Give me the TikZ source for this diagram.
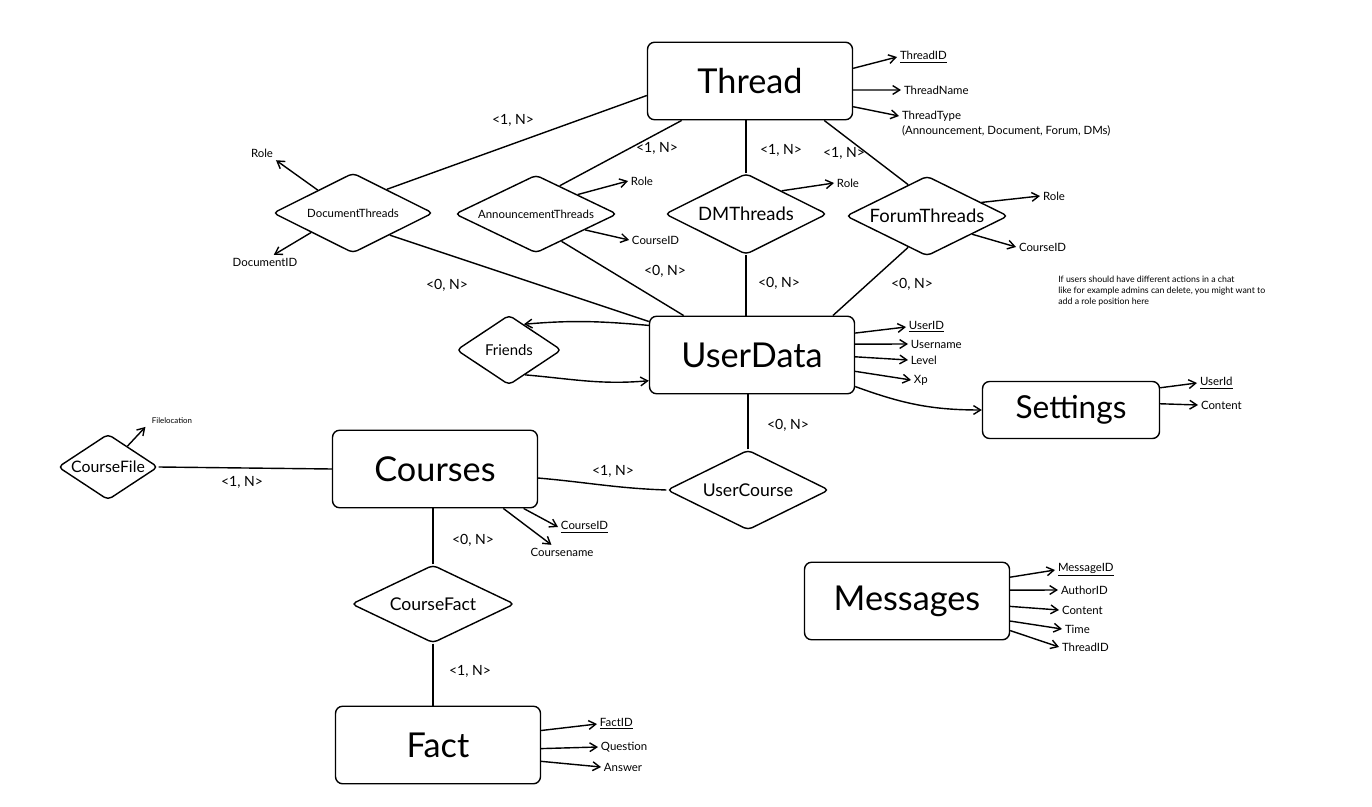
\documentclass[tikz,border=0pt]{standalone}
\usepackage{fontspec}
\setmainfont{Lato}
\usetikzlibrary{shapes.geometric,arrows.meta}

\tikzset{
  entity/.style={draw, rounded corners=4pt, line width=0.8pt, minimum width=4.1cm, minimum height=1.55cm, font=\fontsize{19.5}{22}\selectfont},
  relation/.style={draw, diamond, aspect=2, inner sep=0pt, rounded corners=2.5pt, line width=0.8pt},
  smallrel/.style={relation, font=\fontsize{6.5}{8}\selectfont},
  bigrel/.style={relation, font=\fontsize{10.5}{12}\selectfont},
  attr/.style={font=\fontsize{6.5}{8}\selectfont, inner sep=1.5pt},
  card/.style={font=\fontsize{8}{10}\selectfont},
  conn/.style={line width=0.8pt},
}

\begin{document}
\begin{tikzpicture}[x=0.02cm,y=-0.02cm,>={Straight Barb[length=4pt,width=5pt]}]
\useasboundingbox (0,0) rectangle (1372,807);
% entities
\node[entity] (Thread) at (750,81) {Thread};
\node[entity] (UserData) at (752,355) {UserData};
\node[entity,minimum width=3.54cm,minimum height=1.14cm,font=\fontsize{18}{20}\selectfont] (Settings) at (1071,410) {Settings};
\node[entity] (Courses) at (435,469) {Courses};
\node[entity] (Messages) at (907,601) {Messages};
\node[entity] (Fact) at (438,745) {Fact};

% relations
\node[smallrel,minimum width=3.2cm,minimum height=1.6cm] (DocThreads) at (353,213) {DocumentThreads};
\node[smallrel,minimum width=3.24cm,minimum height=1.56cm] (AnnThreads) at (536,214) {AnnouncementThreads};
\node[bigrel,minimum width=3.24cm,minimum height=1.62cm] (DMThreads) at (746,214) {DMThreads};
\node[bigrel,minimum width=3.24cm,minimum height=1.6cm] (ForumThreads) at (927,216) {ForumThreads};
\node[relation,minimum width=2.1cm,minimum height=1.4cm,font=\fontsize{8.5}{10}\selectfont] (Friends) at (509,350) {Friends};
\node[relation,minimum width=2.0cm,minimum height=1.32cm,font=\fontsize{9}{10}\selectfont] (CourseFile) at (108,467) {CourseFile};
\node[bigrel,minimum width=3.24cm,minimum height=1.6cm,font=\fontsize{10}{12}\selectfont] (UserCourse) at (748,490) {UserCourse};
\node[bigrel,minimum width=3.26cm,minimum height=1.56cm,font=\fontsize{10}{12}\selectfont] (CourseFact) at (433,604) {CourseFact};

% connectors
\draw[conn] (Thread.188) -- (DocThreads.35);
\draw[conn] (Thread.210) -- (AnnThreads.50);
\draw[conn] (DMThreads.north) -- (DMThreads.north |- Thread.south);
\draw[conn] (Thread.332) -- (ForumThreads.121);
\draw[conn] (DocThreads.329) -- (UserData.162);
\draw[conn] (AnnThreads.313) -- (UserData.150);
\draw[conn] (DMThreads.south) -- (DMThreads.south |- UserData.north);
\draw[conn] (ForumThreads.239) -- (UserData.26);
\draw[conn,->] (UserData.164) to[out=175,in=5] (Friends.60);
\draw[conn,->] (Friends.303) to[out=-5,in=185] (UserData.194);
\draw[conn,->] (UserData.343) to[out=-20,in=180] (Settings.west);
\draw[conn] (UserCourse.north) -- (UserCourse.north |- UserData.south);
\draw[conn] (Courses.-5) to[out=-5,in=178] (UserCourse.west);
\draw[conn] (CourseFile.east) -- (Courses.west);
\draw[conn] (CourseFact.north) -- (CourseFact.north |- Courses.south);
\draw[conn] (CourseFact.south) -- (CourseFact.south |- Fact.north);

% cardinalities
\node[card] (c1) at (513,120) {<1, N>};
\node[card] (c2) at (657,148) {<1, N>};
\node[card] (c3) at (781,150) {<1, N>};
\node[card] (c4) at (844,153) {<1, N>};
\node[card] (c5) at (447,285) {<0, N>};
\node[card] (c6) at (665,271) {<0, N>};
\node[card] (c7) at (779,283) {<0, N>};
\node[card] (c8) at (912,284) {<0, N>};
\node[card] (c9) at (788,425) {<0, N>};
\node[card] (c10) at (613,471) {<1, N>};
\node[card] (c11) at (242,482) {<1, N>};
\node[card] (c12) at (473,540) {<0, N>};
\node[card] (c13) at (470,671) {<1, N>};

% Thread attributes
\node[attr,anchor=west] (ThreadID) at (897,57) {\underline{ThreadID}};
\node[attr,anchor=west] (ThreadName) at (901,90) {ThreadName};
\node[attr,anchor=west] (ThreadType) at (899,116) {ThreadType};
\node[attr,anchor=north west,inner ysep=0.5pt] (ThreadTypes) at (ThreadType.south west) {(Announcement, Document, Forum, DMs)};
\draw[conn,->] (Thread.7) -- (ThreadID.west);
\draw[conn,->] (Thread.-5) -- (ThreadName.west);
\draw[conn,->] (Thread.-14) -- (ThreadType.west);

% relation attributes
\node[attr] (DocRole) at (262,153) {Role};
\node[attr] (DocID) at (265,262) {DocumentID};
\draw[conn,->] (DocThreads.147) -- (DocRole.south east);
\draw[conn,->] (DocThreads.205) -- ([xshift=5pt]DocID.north);
\node[attr,anchor=west] (AnnRole) at (628,181) {Role};
\node[attr,anchor=west] (AnnCourseID) at (629,240) {CourseID};
\draw[conn,->] (AnnThreads.25) -- (AnnRole.west);
\draw[conn,->] (AnnThreads.-18) -- (AnnCourseID.west);
\node[attr,anchor=west] (DMRole) at (834,183) {Role};
\draw[conn,->] (DMThreads.33) -- (DMRole.west);
\node[attr,anchor=west] (ForumRole) at (1040,196) {Role};
\node[attr,anchor=west] (ForumCourseID) at (1016,247) {CourseID};
\draw[conn,->] (ForumThreads.14) -- (ForumRole.west);
\draw[conn,->] (ForumThreads.-22) -- (ForumCourseID.west);

% UserData attributes
\node[attr,anchor=west] (UserID) at (906,327) {\underline{UserID}};
\node[attr,anchor=west] (Username) at (908,344) {Username};
\node[attr,anchor=west] (Level) at (908,360) {Level};
\node[attr,anchor=west] (Xp) at (911,380) {Xp};
\draw[conn,->] (UserData.12) -- (UserID.west);
\draw[conn,->] (UserData.6) -- (Username.west);
\draw[conn,->] (UserData.-1) -- (Level.west);
\draw[conn,->] (UserData.-9) -- (Xp.west);

% Settings attributes
\node[attr,anchor=west] (SetUserId) at (1197,383) {\underline{UserId}};
\node[attr,anchor=west] (SetContent) at (1198,405) {Content};
\draw[conn,->] (Settings.14) -- (SetUserId.west);
\draw[conn,->] (Settings.4) -- (SetContent.west);

% Courses attributes
\node[attr,anchor=west] (CourseID) at (558,527) {\underline{CourseID}};
\node[attr] (Coursename) at (562,552) {Coursename};
\draw[conn,->] (Courses.-24) -- (CourseID.west);
\draw[conn,->] (Courses.-30) -- ([xshift=-6pt]Coursename.north);
\node[attr,font=\fontsize{4.5}{5}\selectfont] (Filelocation) at (172,421) {Filelocation};
\draw[conn,->] (CourseFile.47) -- ([xshift=-2pt]Filelocation.south west);

% Messages attributes
\node[attr,anchor=west] (MessageID) at (1055,570) {\underline{MessageID}};
\node[attr,anchor=west] (AuthorID) at (1058,590) {AuthorID};
\node[attr,anchor=west] (MsgContent) at (1059,610) {Content};
\node[attr,anchor=west] (Time) at (1062,629) {Time};
\node[attr,anchor=west] (MsgThreadID) at (1059,647) {ThreadID};
\draw[conn,->] (Messages.13) -- (MessageID.west);
\draw[conn,->] (Messages.6) -- (AuthorID.west);
\draw[conn,->] (Messages.-3) -- (MsgContent.west);
\draw[conn,->] (Messages.-11) -- (Time.west);
\draw[conn,->] (Messages.-16) -- (MsgThreadID.west);

% Fact attributes
\node[attr,anchor=west] (FactID) at (597,724) {\underline{FactID}};
\node[attr,anchor=west] (Question) at (598,747) {Question};
\node[attr,anchor=west] (Answer) at (601,767) {Answer};
\draw[conn,->] (Fact.8) -- (FactID.west);
\draw[conn,->] (Fact.-2) -- (Question.west);
\draw[conn,->] (Fact.-9) -- (Answer.west);

% note
\node[anchor=north west,align=left,inner sep=0pt,font=\fontsize{5}{6.2}\selectfont] (note) at (1058,276) {If users should have different actions in a chat\\like for example admins can delete, you might want to\\add a role position here};
\end{tikzpicture}
\end{document}
